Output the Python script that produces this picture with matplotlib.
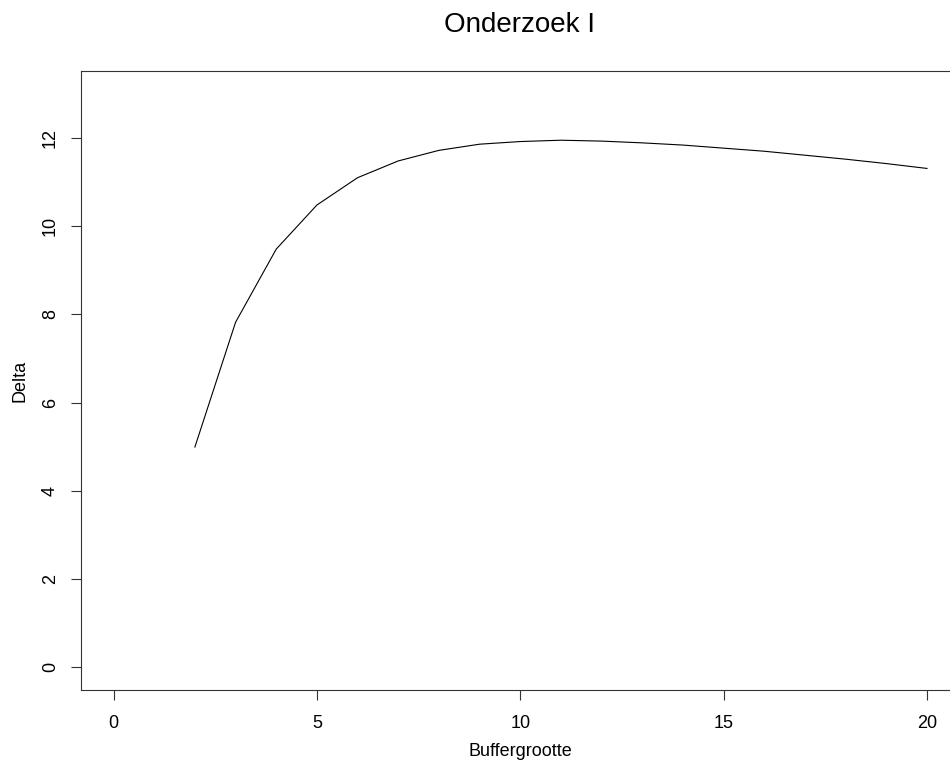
import matplotlib
matplotlib.use("Agg")
import matplotlib.pyplot as plt

plt.rcParams['font.family'] = ['Liberation Sans', 'DejaVu Sans']

buffergrootte = [2, 3, 4, 5, 6, 7, 8, 9, 10, 11, 12, 13, 14, 15, 16, 17, 18, 19, 20]
delta = [4.99, 7.82, 9.48, 10.48, 11.10, 11.48, 11.72, 11.86, 11.92, 11.95, 11.93,
         11.89, 11.84, 11.77, 11.70, 11.61, 11.52, 11.42, 11.31]

xticks = [0, 5, 10, 15, 20]
yticks = [0, 2, 4, 6, 8, 10, 12]

W, H = 950, 764
fig = plt.figure(figsize=(9.5, 7.64), dpi=100)
ax = fig.add_axes([81/W, (H-690)/H, (959.5-81)/W, (690-71)/H])
ax.plot(buffergrootte, delta, color='black', lw=0.8)
ax.set_xlim(-0.8, 20.8)
ax.set_ylim(-0.52, 13.52)
ax.set_xticks(xticks)
ax.set_yticks(yticks)
ax.set_xticklabels([str(t) for t in xticks], fontsize=13)
ax.set_yticklabels([str(t) for t in yticks], rotation=90, va='center', fontsize=13)
ax.tick_params(direction='out', length=7, width=0.8, color='#333333')
ax.tick_params(axis='x', pad=11)
ax.tick_params(axis='y', pad=9)
for s in ax.spines.values():
    s.set_linewidth(0.8)
    s.set_color('#333333')
fig.text(520/W, 1 - 752/H, 'Buffergrootte', ha='center', va='center', fontsize=13)
fig.text(19.5/W, 1 - 380.5/H, 'Delta', ha='center', va='center', rotation=90, fontsize=13)
fig.text(520/W, 1 - 25/H, 'Onderzoek I', ha='center', va='center', fontsize=20)
fig.savefig('out.png', dpi=100)
